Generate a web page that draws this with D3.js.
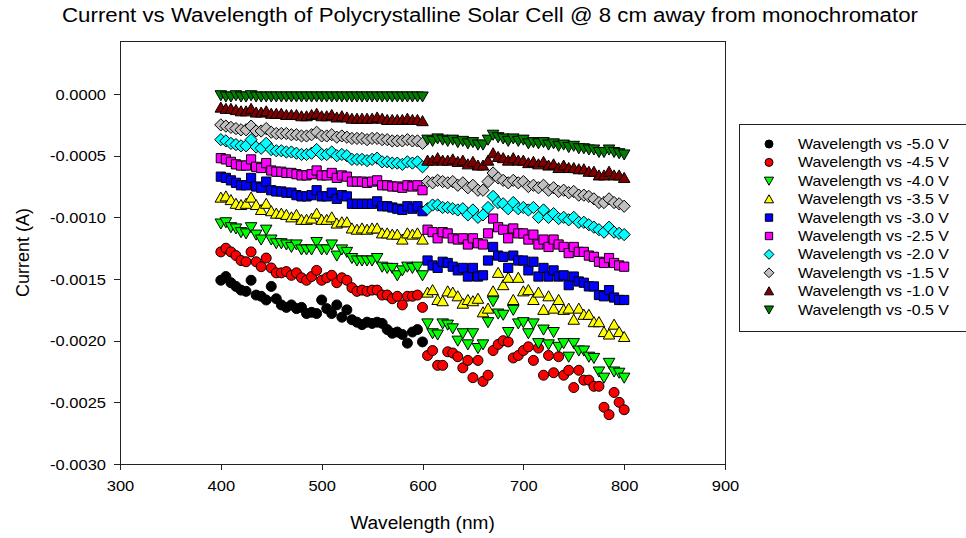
<!DOCTYPE html>
<html>
<head>
<meta charset="utf-8">
<script src="https://cdn.jsdelivr.net/npm/d3@7"></script>
<style>
  body { margin: 0; background: #fff; }
  svg { display: block; }
  text { font-family: "Liberation Sans", Arial, sans-serif; fill: #000; }
</style>
</head>
<body>
<svg id="chart" width="966" height="538"></svg>
<script>
// Wavelength grid (nm)
const wavelengths = [400,405,410,415,420,425,430,435,440,445,450,455,460,465,470,475,480,485,490,495,500,
  505,510,515,520,525,530,535,540,545,550,555,560,565,570,575,580,585,590,595,600,
  605,610,615,620,625,630,635,640,645,650,655,660,665,670,675,680,685,690,695,700,
  705,710,715,720,725,730,735,740,745,750,755,760,765,770,775,780,785,790,795,800];

// Measured current (A) for each bias voltage
const vMinus5_0 = [-0.00151,-0.00148,-0.00153,-0.00156,-0.00159,-0.0016,-0.00151,-0.00163,-0.00164,-0.00167,-0.00156,-0.00166,-0.00171,-0.00173,-0.00171,-0.00174,-0.00173,-0.00178,-0.00177,-0.00178,-0.00167,-0.00174,-0.00178,-0.00171,-0.00181,-0.00175,-0.00183,-0.00185,-0.00187,-0.00185,-0.00186,-0.00185,-0.00186,-0.00191,-0.00194,-0.00193,-0.00195,-0.00202,-0.00193,-0.00191,-0.00201];

const vMinus4_5 = [-0.00128,-0.00125,-0.00128,-0.00131,-0.00135,-0.00136,-0.00128,-0.00136,-0.0014,-0.00133,-0.00141,-0.00145,-0.00145,-0.00144,-0.00147,-0.00145,-0.00149,-0.00151,-0.00148,-0.00143,-0.00151,-0.00149,-0.00147,-0.00153,-0.00149,-0.00151,-0.00157,-0.0016,-0.00159,-0.0016,-0.00159,-0.00159,-0.00163,-0.00163,-0.00166,-0.00164,-0.00171,-0.00164,-0.00164,-0.00163,-0.00173,
  -0.00212,-0.00208,-0.0022,-0.0022,-0.00209,-0.0021,-0.00213,-0.00222,-0.00216,-0.0023,-0.00216,-0.00233,-0.00228,-0.00208,-0.00203,-0.002,-0.00201,-0.00214,-0.00212,-0.00208,-0.00205,-0.00216,-0.00206,-0.00228,-0.00212,-0.00226,-0.00213,-0.00228,-0.00224,-0.00238,-0.00224,-0.00232,-0.00232,-0.00237,-0.00237,-0.00254,-0.0026,-0.00242,-0.0025,-0.00256];

const vMinus4_0 = [-0.00105,-0.00104,-0.00108,-0.00109,-0.00112,-0.00113,-0.00108,-0.00114,-0.00118,-0.0011,-0.00118,-0.00121,-0.00121,-0.00122,-0.00124,-0.00122,-0.00126,-0.00126,-0.00126,-0.0012,-0.00126,-0.00126,-0.00122,-0.00131,-0.00126,-0.00128,-0.00133,-0.00135,-0.00135,-0.00135,-0.00135,-0.00133,-0.0014,-0.00141,-0.00141,-0.00147,-0.00143,-0.0014,-0.00141,-0.0014,-0.00147,
  -0.00186,-0.00194,-0.00195,-0.00186,-0.00187,-0.0019,-0.002,-0.00194,-0.00203,-0.00194,-0.00206,-0.00203,-0.00185,-0.00168,-0.00178,-0.00179,-0.00193,-0.00175,-0.00186,-0.00185,-0.00194,-0.00186,-0.00202,-0.00191,-0.00203,-0.00193,-0.00205,-0.00202,-0.00213,-0.00202,-0.00208,-0.00208,-0.00213,-0.00214,-0.00225,-0.0023,-0.00218,-0.00225,-0.00226,-0.0023];

const vMinus3_5 = [-0.00084,-0.00083,-0.00086,-0.00089,-0.0009,-0.00089,-0.00084,-0.0009,-0.00094,-0.00089,-0.00095,-0.00097,-0.00097,-0.00098,-0.001,-0.00098,-0.00102,-0.00102,-0.00101,-0.00097,-0.00102,-0.00102,-0.001,-0.00105,-0.00104,-0.00104,-0.00109,-0.0011,-0.00109,-0.0011,-0.00109,-0.00109,-0.00113,-0.00113,-0.00114,-0.00114,-0.00118,-0.00113,-0.00114,-0.00113,-0.00118,
  -0.00161,-0.00159,-0.00167,-0.00168,-0.0016,-0.00161,-0.00164,-0.0017,-0.00167,-0.00168,-0.00166,-0.00177,-0.00174,-0.0016,-0.00145,-0.00155,-0.00149,-0.00167,-0.00149,-0.0016,-0.00159,-0.00167,-0.00161,-0.00175,-0.00164,-0.00174,-0.00167,-0.00175,-0.00174,-0.00183,-0.00174,-0.00179,-0.00179,-0.00185,-0.00185,-0.00193,-0.00195,-0.00187,-0.00193,-0.00197];

const vMinus3_0 = [-0.00067,-0.00068,-0.0007,-0.00072,-0.00074,-0.00074,-0.00068,-0.00075,-0.00076,-0.00071,-0.00078,-0.00079,-0.00079,-0.0008,-0.0008,-0.00082,-0.00083,-0.00083,-0.00082,-0.00078,-0.00083,-0.00083,-0.0008,-0.00085,-0.00082,-0.00083,-0.00089,-0.00089,-0.00089,-0.00089,-0.00089,-0.00087,-0.00091,-0.00091,-0.00092,-0.00093,-0.00094,-0.00091,-0.00093,-0.00091,-0.00095,
  -0.00135,-0.00139,-0.00141,-0.00136,-0.00137,-0.0014,-0.00143,-0.00141,-0.00148,-0.00141,-0.00148,-0.00147,-0.00135,-0.00124,-0.00131,-0.00132,-0.00141,-0.00131,-0.00135,-0.00135,-0.00143,-0.00136,-0.00148,-0.00141,-0.00148,-0.00143,-0.00148,-0.00147,-0.00155,-0.00148,-0.00152,-0.00153,-0.00156,-0.00156,-0.00163,-0.00164,-0.00159,-0.00165,-0.00167,-0.00167];

const vMinus2_5 = [-0.00052,-0.00053,-0.00055,-0.00057,-0.00058,-0.00058,-0.00053,-0.00059,-0.0006,-0.00056,-0.00062,-0.00063,-0.00063,-0.00064,-0.00064,-0.00065,-0.00066,-0.00066,-0.00065,-0.00062,-0.00066,-0.00066,-0.00064,-0.00068,-0.00066,-0.00067,-0.00071,-0.00071,-0.00071,-0.00072,-0.00071,-0.0007,-0.00074,-0.00074,-0.00075,-0.00075,-0.00076,-0.00074,-0.00075,-0.00074,-0.00078,
  -0.0011,-0.00112,-0.00117,-0.00112,-0.00113,-0.00117,-0.00118,-0.00117,-0.00122,-0.00117,-0.00121,-0.00122,-0.00113,-0.00101,-0.00108,-0.0011,-0.00117,-0.00109,-0.00113,-0.00113,-0.00118,-0.00114,-0.00122,-0.00118,-0.00124,-0.00118,-0.00122,-0.00124,-0.00129,-0.00124,-0.00128,-0.00128,-0.00131,-0.00132,-0.00136,-0.00137,-0.00133,-0.00137,-0.00139,-0.0014];

const vMinus2_0 = [-0.00037,-0.00038,-0.0004,-0.00041,-0.00042,-0.00042,-0.00037,-0.00043,-0.00044,-0.0004,-0.00045,-0.00046,-0.00046,-0.00047,-0.00047,-0.00048,-0.00049,-0.00049,-0.00048,-0.00045,-0.00049,-0.00049,-0.00047,-0.0005,-0.00049,-0.0005,-0.00053,-0.00053,-0.00053,-0.00054,-0.00053,-0.00052,-0.00055,-0.00055,-0.00056,-0.00056,-0.00057,-0.00055,-0.00056,-0.00055,-0.00059,
  -0.00093,-0.0009,-0.0009,-0.00092,-0.00092,-0.00093,-0.00094,-0.00093,-0.00098,-0.00094,-0.001,-0.00098,-0.00092,-0.00083,-0.00088,-0.00089,-0.00093,-0.00088,-0.00093,-0.00092,-0.00094,-0.00092,-0.001,-0.00094,-0.001,-0.00097,-0.00101,-0.001,-0.00102,-0.001,-0.00104,-0.00104,-0.00106,-0.00108,-0.0011,-0.00112,-0.00108,-0.00112,-0.00113,-0.00114];

const vMinus1_5 = [-0.00025,-0.00026,-0.00027,-0.00028,-0.00029,-0.00029,-0.00026,-0.0003,-0.0003,-0.00028,-0.00031,-0.00032,-0.00032,-0.00032,-0.00033,-0.00033,-0.00034,-0.00034,-0.00033,-0.00031,-0.00034,-0.00034,-0.00033,-0.00035,-0.00034,-0.00035,-0.00036,-0.00036,-0.00036,-0.00037,-0.00036,-0.00036,-0.00037,-0.00037,-0.00038,-0.00038,-0.00038,-0.00037,-0.00038,-0.00038,-0.0004,
  -0.00071,-0.00072,-0.0007,-0.00071,-0.00072,-0.00071,-0.00074,-0.00072,-0.00076,-0.00074,-0.00078,-0.00078,-0.00071,-0.00064,-0.00068,-0.0007,-0.00072,-0.0007,-0.00072,-0.00071,-0.00075,-0.00074,-0.00076,-0.00074,-0.00078,-0.00076,-0.00079,-0.00078,-0.0008,-0.00079,-0.00082,-0.00082,-0.00083,-0.00085,-0.00088,-0.00088,-0.00085,-0.00088,-0.00089,-0.00091];

const vMinus1_0 = [-0.00011,-0.00012,-0.00012,-0.00013,-0.00014,-0.00014,-0.00012,-0.00015,-0.00015,-0.00014,-0.00016,-0.00016,-0.00016,-0.00017,-0.00017,-0.00017,-0.00018,-0.00018,-0.00017,-0.00016,-0.00018,-0.00018,-0.00017,-0.00019,-0.00018,-0.00019,-0.0002,-0.0002,-0.0002,-0.0002,-0.0002,-0.00019,-0.0002,-0.00021,-0.00021,-0.00021,-0.00021,-0.0002,-0.00021,-0.00021,-0.00022,
  -0.00054,-0.00054,-0.00052,-0.00054,-0.00054,-0.00053,-0.00055,-0.00054,-0.00057,-0.00055,-0.00058,-0.00058,-0.00054,-0.00048,-0.00051,-0.00052,-0.00054,-0.00052,-0.00054,-0.00054,-0.00056,-0.00055,-0.00057,-0.00055,-0.00058,-0.00057,-0.0006,-0.00058,-0.0006,-0.0006,-0.00061,-0.00061,-0.00063,-0.00063,-0.00066,-0.00066,-0.00063,-0.00066,-0.00066,-0.00068];

const vMinus0_5 = [-0.00001,-0.00002,-0.00002,-0.00001,-0.00002,-0.00002,-0.00001,-0.00002,-0.00002,-0.00002,-0.00002,-0.00002,-0.00002,-0.00002,-0.00002,-0.00002,-0.00002,-0.00002,-0.00002,-0.00002,-0.00002,-0.00002,-0.00002,-0.00002,-0.00002,-0.00002,-0.00002,-0.00002,-0.00002,-0.00002,-0.00002,-0.00002,-0.00002,-0.00002,-0.00002,-0.00002,-0.00002,-0.00002,-0.00002,-0.00002,-0.00002,
  -0.00037,-0.00038,-0.00036,-0.00037,-0.00038,-0.00037,-0.00039,-0.00038,-0.0004,-0.00039,-0.00041,-0.00041,-0.00037,-0.00033,-0.00035,-0.00036,-0.00038,-0.00036,-0.00038,-0.00037,-0.0004,-0.00039,-0.0004,-0.00039,-0.00041,-0.0004,-0.00042,-0.00041,-0.00043,-0.00042,-0.00044,-0.00044,-0.00045,-0.00045,-0.00047,-0.00047,-0.00045,-0.00047,-0.00048,-0.00049];

const seriesNames = ["Wavelength vs -5.0 V","Wavelength vs -4.5 V","Wavelength vs -4.0 V","Wavelength vs -3.5 V",
  "Wavelength vs -3.0 V","Wavelength vs -2.5 V","Wavelength vs -2.0 V","Wavelength vs -1.5 V",
  "Wavelength vs -1.0 V","Wavelength vs -0.5 V"];

const xTicks = [300, 400, 500, 600, 700, 800, 900];
const yTicks = [0, -0.0005, -0.001, -0.0015, -0.002, -0.0025, -0.003];

const chartTitle = "Current vs Wavelength of Polycrystalline Solar Cell @ 8 cm away from monochromator";
const xTitle = "Wavelength (nm)";
const yTitle = "Current (A)";

// Symbol styling for each series
const series = [
  { name: seriesNames[0], values: vMinus5_0, shape: "circle",  fill: "#000000" },
  { name: seriesNames[1], values: vMinus4_5, shape: "circle",  fill: "#ff0000" },
  { name: seriesNames[2], values: vMinus4_0, shape: "triDown", fill: "#00ff00" },
  { name: seriesNames[3], values: vMinus3_5, shape: "triUp",   fill: "#ffff00" },
  { name: seriesNames[4], values: vMinus3_0, shape: "square",  fill: "#0000ff" },
  { name: seriesNames[5], values: vMinus2_5, shape: "square",  fill: "#ff00ff" },
  { name: seriesNames[6], values: vMinus2_0, shape: "diamond", fill: "#00ffff" },
  { name: seriesNames[7], values: vMinus1_5, shape: "diamond", fill: "#c0c0c0" },
  { name: seriesNames[8], values: vMinus1_0, shape: "triUp",   fill: "#800000" },
  { name: seriesNames[9], values: vMinus0_5, shape: "triDown", fill: "#008000" }
];

const plot = { left: 120, right: 725, top: 41, bottom: 464 };

const svg = d3.select("#chart");
svg.append("rect").attr("width", 966).attr("height", 538).attr("fill", "#fff");

const x = d3.scaleLinear().domain([300, 900]).range([plot.left, plot.right]);
const y = d3.scaleLinear().domain([-0.003, 0.00043]).range([plot.bottom, plot.top]);

// Marker outlines, centred on the origin; s is the half-size in px
function markerPath(shape, s) {
  switch (shape) {
    case "circle":  return d3.symbol(d3.symbolCircle, Math.PI * s * s)();
    case "square":  return `M${-s},${-s}H${s}V${s}H${-s}Z`;
    case "diamond": { const d = s * 1.3; return `M0,${-d}L${d},0L0,${d}L${-d},0Z`; }
    case "triUp":   { const w = s * 1.2, h = s * 1.05; return `M0,${-h * 1.1}L${w},${h * 0.9}L${-w},${h * 0.9}Z`; }
    case "triDown": { const w = s * 1.2, h = s * 1.05; return `M0,${h * 1.1}L${w},${-h * 0.9}L${-w},${-h * 0.9}Z`; }
  }
}
const markerSize = { circle: 5, square: 4.6, diamond: 4.7, triUp: 4.8, triDown: 4.8 };

// Text helper: widen glyphs slightly to the chart's typographic proportions
function widen(sel, f) {
  sel.each(function () {
    const L = this.getComputedTextLength();
    d3.select(this).attr("textLength", L * f).attr("lengthAdjust", "spacingAndGlyphs");
  });
}

// Data markers
const clipId = "plotClip";
svg.append("clipPath").attr("id", clipId).append("rect")
  .attr("x", plot.left).attr("y", plot.top)
  .attr("width", plot.right - plot.left).attr("height", plot.bottom - plot.top);

const marks = svg.append("g").attr("clip-path", `url(#${clipId})`);
series.forEach(s => {
  const pts = s.values.map((v, i) => ({ w: wavelengths[i], v }));
  marks.append("g")
    .selectAll("path")
    .data(pts)
    .join("path")
    .attr("transform", d => `translate(${x(d.w)},${y(d.v)})`)
    .attr("d", markerPath(s.shape, markerSize[s.shape]))
    .attr("fill", s.fill)
    .attr("stroke", "#000")
    .attr("stroke-width", 1);
});

// Frame
svg.append("rect")
  .attr("x", plot.left).attr("y", plot.top)
  .attr("width", plot.right - plot.left).attr("height", plot.bottom - plot.top)
  .attr("fill", "none").attr("stroke", "#222").attr("stroke-width", 1)
  .attr("shape-rendering", "crispEdges");

// Axes
const xAxis = svg.append("g")
  .attr("transform", `translate(0,${plot.bottom})`)
  .call(d3.axisBottom(x).tickValues(xTicks).tickFormat(d => String(d)).tickSize(6).tickSizeOuter(0).tickPadding(5));
const yAxis = svg.append("g")
  .attr("transform", `translate(${plot.left},0)`)
  .call(d3.axisLeft(y).tickValues(yTicks).tickFormat(d => d.toFixed(4)).tickSize(6).tickSizeOuter(0).tickPadding(8));

[xAxis, yAxis].forEach(g => {
  g.select(".domain").attr("stroke", "#222").attr("shape-rendering", "crispEdges");
  g.selectAll(".tick line").attr("stroke", "#222").attr("shape-rendering", "crispEdges");
  g.selectAll(".tick text").attr("font-family", "Liberation Sans, Arial, sans-serif")
    .attr("font-size", 15).attr("fill", "#000");
});
xAxis.selectAll(".tick text").attr("dy", "1.05em");
yAxis.selectAll(".tick text").attr("dy", "0.35em");
widen(xAxis.selectAll(".tick text"), 1.1);
widen(yAxis.selectAll(".tick text"), 1.1);

// Titles
const title = svg.append("text")
  .attr("x", 490).attr("y", 22)
  .attr("text-anchor", "middle").attr("font-size", 20)
  .text(chartTitle);
title.each(function () {
  d3.select(this).attr("textLength", 856).attr("lengthAdjust", "spacingAndGlyphs");
});

const xt = svg.append("text")
  .attr("x", (plot.left + plot.right) / 2).attr("y", 529)
  .attr("text-anchor", "middle").attr("font-size", 18)
  .text(xTitle);
widen(xt, 1.06);

svg.append("text")
  .attr("transform", `translate(29,${(plot.top + plot.bottom) / 2}) rotate(-90)`)
  .attr("text-anchor", "middle").attr("font-size", 18)
  .text(yTitle);

// Legend
const legend = svg.append("g");
legend.append("rect")
  .attr("x", 739.5).attr("y", 124.5).attr("width", 260).attr("height", 207)
  .attr("fill", "#fff").attr("stroke", "#222").attr("stroke-width", 1);

const rowY = i => 144 + i * 18.4;
const rows = legend.selectAll("g.row").data(series).join("g").attr("class", "row");
rows.append("path")
  .attr("transform", (d, i) => `translate(769,${rowY(i)})`)
  .attr("d", d => markerPath(d.shape, markerSize[d.shape] * 0.8))
  .attr("fill", d => d.fill).attr("stroke", "#000").attr("stroke-width", 1);
const labels = rows.append("text")
  .attr("x", 798).attr("y", (d, i) => rowY(i) + 5)
  .attr("font-size", 14.5)
  .text(d => d.name);
widen(labels, 1.1);
</script>
</body>
</html>
